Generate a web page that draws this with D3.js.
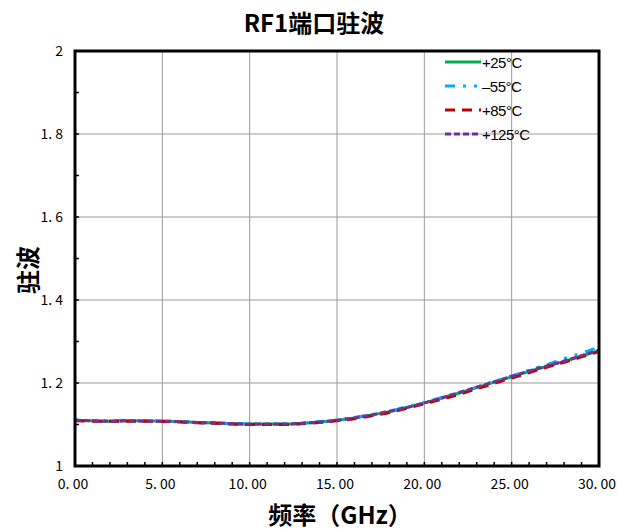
<!DOCTYPE html>
<html>
<head>
<meta charset="utf-8">
<script src="https://cdn.jsdelivr.net/npm/d3@7"></script>
<style>
  body { margin: 0; background: #fff; }
  svg { display: block; }
</style>
</head>
<body>
<div id="chart"></div>
<script>
// frequency points (GHz)
var freq = [0, 1, 2, 3, 4, 5, 6, 7, 8, 9, 10, 11, 12, 13, 14, 15, 16, 17, 18, 19, 20,
            21, 22, 23, 24, 25, 26, 27, 28, 29, 30];

// VSWR per temperature
var vswr25 = [1.110, 1.109, 1.108, 1.109, 1.109, 1.108, 1.107, 1.105, 1.104, 1.102, 1.101,
              1.101, 1.101, 1.103, 1.106, 1.110, 1.116, 1.123, 1.131, 1.141, 1.152,
              1.164, 1.176, 1.189, 1.202, 1.215, 1.228, 1.240, 1.252, 1.265, 1.278];
var vswrM55 = [1.111, 1.109, 1.109, 1.110, 1.109, 1.108, 1.106, 1.105, 1.103, 1.102, 1.102,
               1.100, 1.101, 1.103, 1.107, 1.111, 1.117, 1.124, 1.132, 1.143, 1.153,
               1.165, 1.177, 1.190, 1.204, 1.217, 1.231, 1.244, 1.259, 1.272, 1.287];
var vswr85 = [1.109, 1.108, 1.108, 1.108, 1.108, 1.107, 1.106, 1.104, 1.103, 1.101, 1.100,
              1.100, 1.100, 1.102, 1.105, 1.109, 1.114, 1.121, 1.129, 1.139, 1.150,
              1.161, 1.173, 1.186, 1.199, 1.212, 1.225, 1.238, 1.250, 1.263, 1.276];
var vswr125 = [1.110, 1.109, 1.108, 1.109, 1.108, 1.108, 1.107, 1.105, 1.104, 1.102, 1.101,
               1.101, 1.101, 1.103, 1.106, 1.110, 1.116, 1.123, 1.132, 1.141, 1.152,
               1.164, 1.177, 1.190, 1.203, 1.216, 1.229, 1.241, 1.253, 1.266, 1.279];

var seriesNames = ["+25°C", "–55°C", "+85°C", "+125°C"];
var seriesValues = [vswr25, vswrM55, vswr85, vswr125];
var seriesColors = ["#00b050", "#00b0f0", "#c00000", "#7030a0"];
var seriesDash = [null, "10,8,3,8,3,8", "10,7", "6,3"];

var xTicks = [0, 5, 10, 15, 20, 25, 30];
var yTicks = [1, 1.2, 1.4, 1.6, 1.8, 2];

var width = 617, height = 530;
var margin = { left: 75, right: 18, top: 51, bottom: 64 };

var svg = d3.select("#chart").append("svg")
    .attr("width", width)
    .attr("height", height);

var x = d3.scaleLinear().domain([0, 30]).range([margin.left, width - margin.right]);
var y = d3.scaleLinear().domain([1, 2]).range([height - margin.bottom, margin.top]);

var cjk = "'Noto Sans CJK SC', 'Liberation Sans', sans-serif";

// grid
svg.append("g").selectAll("line").data(xTicks.slice(1, -1)).enter().append("line")
    .attr("x1", d => x(d)).attr("x2", d => x(d))
    .attr("y1", y(1)).attr("y2", y(2))
    .attr("stroke", "#9a9a9a").attr("stroke-width", 1);
svg.append("g").selectAll("line").data(yTicks.slice(1, -1)).enter().append("line")
    .attr("x1", x(0)).attr("x2", x(30))
    .attr("y1", d => y(d)).attr("y2", d => y(d))
    .attr("stroke", "#9a9a9a").attr("stroke-width", 1);

// minor ticks (inside)
svg.append("g").selectAll("line").data(d3.range(1, 30)).enter().append("line")
    .attr("x1", d => x(d)).attr("x2", d => x(d))
    .attr("y1", y(1)).attr("y2", y(1) - 4)
    .attr("stroke", "#000").attr("stroke-width", 1.5);
svg.append("g").selectAll("line").data(d3.range(1.1, 2, 0.1)).enter().append("line")
    .attr("x1", x(0)).attr("x2", x(0) + 4)
    .attr("y1", d => y(d)).attr("y2", d => y(d))
    .attr("stroke", "#000").attr("stroke-width", 1.5);

// series
var line = d3.line().x((d, i) => x(freq[i])).y(d => y(d)).curve(d3.curveMonotoneX);
seriesValues.forEach(function (vals, i) {
    svg.append("path")
        .datum(vals)
        .attr("d", line)
        .attr("fill", "none")
        .attr("stroke", seriesColors[i])
        .attr("stroke-width", 3)
        .attr("stroke-dasharray", seriesDash[i]);
});

// frame
svg.append("rect")
    .attr("x", x(0)).attr("y", y(2))
    .attr("width", x(30) - x(0)).attr("height", y(1) - y(2))
    .attr("fill", "none").attr("stroke", "#000").attr("stroke-width", 3);

// tick labels
svg.append("g").selectAll("text").data(xTicks).enter().append("text")
    .attr("x", d => x(d) - 2).attr("y", y(1) + 23)
    .attr("text-anchor", "middle")
    .attr("font-family", cjk).attr("font-size", 14)
    .text(d => d3.format(".2f")(d).replace(".", ". "));
svg.append("g").selectAll("text").data(yTicks).enter().append("text")
    .attr("x", x(0) - 12).attr("y", d => y(d) + 5)
    .attr("text-anchor", "end")
    .attr("font-family", cjk).attr("font-size", 14)
    .text(d => d3.format("")(d).replace(".", ". "));

// title and axis titles
svg.append("text")
    .attr("x", 314).attr("y", 32)
    .attr("text-anchor", "middle")
    .attr("font-family", cjk).attr("font-size", 24).attr("font-weight", "bold")
    .text("RF1端口驻波");
svg.append("text")
    .attr("x", 340).attr("y", 524)
    .attr("text-anchor", "middle")
    .attr("font-family", cjk).attr("font-size", 24).attr("font-weight", "bold")
    .text("频率（GHz）");
svg.append("text")
    .attr("transform", "translate(37,270) rotate(-90)")
    .attr("text-anchor", "middle")
    .attr("font-family", cjk).attr("font-size", 24).attr("font-weight", "bold")
    .text("驻波");

// legend
var legend = svg.append("g").attr("transform", "translate(445,62)");
seriesNames.forEach(function (name, i) {
    var g = legend.append("g").attr("transform", "translate(0," + (i * 24) + ")");
    g.append("line")
        .attr("x1", 0).attr("x2", 36).attr("y1", 0).attr("y2", 0)
        .attr("stroke", seriesColors[i]).attr("stroke-width", 3)
        .attr("stroke-dasharray", seriesDash[i]);
    g.append("text")
        .attr("x", 37).attr("y", 6)
        .attr("font-family", "'Liberation Sans Narrow', 'Liberation Sans', sans-serif")
        .attr("font-size", 15)
        .attr("letter-spacing", -0.5)
        .text(name);
});
</script>
</body>
</html>
